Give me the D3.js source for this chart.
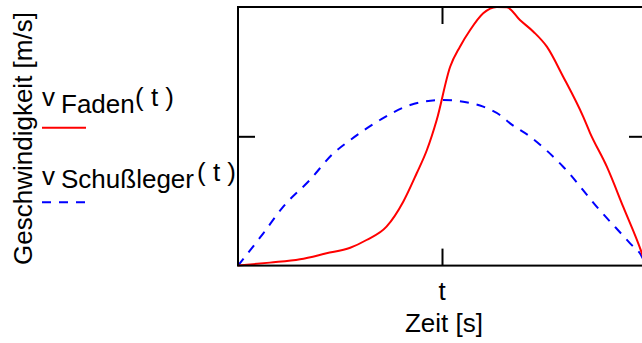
<!DOCTYPE html>
<html>
<head>
<meta charset="utf-8">
<script src="https://cdn.jsdelivr.net/npm/d3@7"></script>
<style>
  body { margin: 0; background: #fff; }
  svg { display: block; overflow: hidden; }
  text { font-family: "Liberation Sans", Arial, sans-serif; fill: #000; }
</style>
</head>
<body>
<div id="chart"></div>
<script>
// time (normalized) and speeds
var tFaden = [0, 0.078, 0.152, 0.217, 0.275, 0.315, 0.364, 0.405, 0.438, 0.463, 0.487, 0.520, 0.544, 0.569, 0.601, 0.634, 0.659, 0.691, 0.724, 0.757, 0.797, 0.846, 0.863, 0.904, 0.944, 0.990, 1.0];
var vFaden = [0, 0.023, 0.049, 0.095, 0.138, 0.198, 0.301, 0.494, 0.714, 0.894, 1.126, 1.538, 1.693, 1.822, 1.951, 2.0, 1.998, 1.899, 1.809, 1.693, 1.461, 1.152, 1.025, 0.765, 0.456, 0.095, 0];

var tSchuss = [0, 0.062, 0.111, 0.176, 0.234, 0.275, 0.348, 0.422, 0.503, 0.552, 0.601, 0.642, 0.667, 0.716, 0.797, 0.879, 0.961, 0.990, 1.0];
var vSchuss = [0, 0.25, 0.456, 0.662, 0.869, 0.971, 1.126, 1.242, 1.281, 1.268, 1.229, 1.165, 1.1, 0.997, 0.765, 0.456, 0.172, 0.069, 0];

var xTicks = [0.5];
var yTicks = [1];

var width = 642;
var height = 343;
var plotLeft = 238, plotRight = 646, plotTop = 7, plotBottom = 265.6;

var svg = d3.select("#chart").append("svg")
          .attr("width", width)
          .attr("height", height);

var x = d3.scaleLinear().domain([0, 1]).range([plotLeft, plotRight]);
var y = d3.scaleLinear().domain([0, 2]).range([plotBottom, plotTop]);

// curves
var line = d3.line()
  .x(function(d){ return x(d[0]); })
  .y(function(d){ return y(d[1]); })
  .curve(d3.curveMonotoneX);

svg.append("path")
  .datum(d3.zip(tSchuss, vSchuss))
  .attr("d", line)
  .attr("fill", "none")
  .attr("stroke", "#0000ff")
  .attr("stroke-width", 2)
  .attr("stroke-dasharray", "9,8");

svg.append("path")
  .datum(d3.zip(tFaden, vFaden))
  .attr("d", line)
  .attr("fill", "none")
  .attr("stroke", "#ff0000")
  .attr("stroke-width", 2);

// frame + inward ticks on all four sides
var tickLen = 17;
svg.append("g").attr("transform", "translate(0," + plotBottom + ")")
  .call(d3.axisTop(x).tickValues(xTicks).tickSize(tickLen).tickFormat(""));
svg.append("g").attr("transform", "translate(0," + plotTop + ")")
  .call(d3.axisBottom(x).tickValues(xTicks).tickSize(tickLen).tickFormat(""));
svg.append("g").attr("transform", "translate(" + plotLeft + ",0)")
  .call(d3.axisRight(y).tickValues(yTicks).tickSize(tickLen).tickFormat(""));
svg.append("g").attr("transform", "translate(" + plotRight + ",0)")
  .call(d3.axisLeft(y).tickValues(yTicks).tickSize(tickLen).tickFormat(""));

svg.selectAll(".domain").remove();
svg.selectAll(".tick line").attr("stroke", "#000").attr("stroke-width", 2);

svg.append("rect")
  .attr("x", plotLeft).attr("y", plotTop)
  .attr("width", plotRight - plotLeft).attr("height", plotBottom - plotTop)
  .attr("fill", "none").attr("stroke", "#000").attr("stroke-width", 2);

// axis labels
svg.append("text")
  .attr("x", x(0.5)).attr("y", 300)
  .attr("text-anchor", "middle")
  .style("font-size", "26px")
  .text("t");
svg.append("text")
  .attr("x", 444).attr("y", 331.5)
  .attr("text-anchor", "middle")
  .style("font-size", "26px")
  .text("Zeit [s]");
svg.append("text")
  .attr("transform", "translate(32,138.5) rotate(-90)")
  .attr("text-anchor", "middle")
  .style("font-size", "26px")
  .text("Geschwindigkeit [m/s]");

// legend
var legend = [
  {sub: "Faden", color: "#ff0000", dash: null, vy: 106, sy: 113, py: 106, px: 135, ly: 127.7},
  {sub: "Schußleger", color: "#0000ff", dash: "9,8", vy: 185, sy: 188.3, py: 181, px: 197, ly: 202.3}
];
legend.forEach(function(d){
  var g = svg.append("g").style("font-size", "26px");
  g.append("text").attr("x", 42).attr("y", d.vy).text("v");
  g.append("text").attr("x", 61).attr("y", d.sy).text(d.sub);
  g.append("text").attr("x", d.px).attr("y", d.py).text("( t )");
  g.append("line")
    .attr("x1", 42).attr("x2", 86).attr("y1", d.ly).attr("y2", d.ly)
    .attr("stroke", d.color).attr("stroke-width", 2)
    .attr("stroke-dasharray", d.dash);
});
</script>
</body>
</html>
